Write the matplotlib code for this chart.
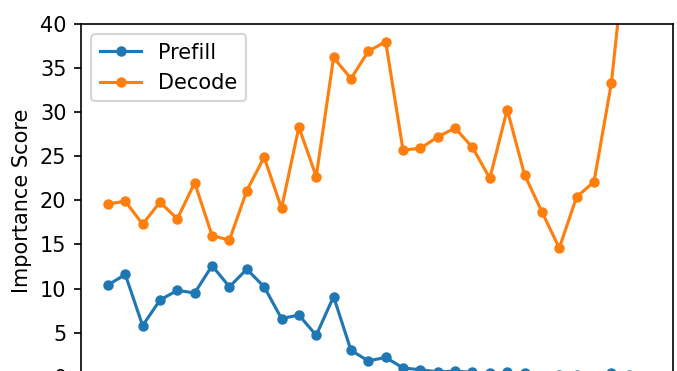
import matplotlib
matplotlib.use('Agg')
import matplotlib.pyplot as plt

# Layer-wise importance scores
layers = list(range(32))
prefill = [10.4, 11.6, 5.8, 8.7, 9.8, 9.5, 12.6, 10.2, 12.2, 10.2,
           6.6, 7.0, 4.7, 9.1, 3.0, 1.8, 2.2, 1.0, 0.8, 0.55,
           0.65, 0.5, 0.45, 0.55, 0.4, 0.1, 0.25, 0.25, 0.1, 0.45,
           0.25, 0.1]
decode = [19.6, 19.9, 17.3, 19.8, 17.9, 22.0, 16.0, 15.5, 21.1, 24.9,
          19.1, 28.3, 22.7, 36.2, 33.8, 36.9, 38.0, 25.7, 25.9, 27.2,
          28.2, 26.0, 22.5, 30.3, 22.9, 18.7, 14.6, 20.4, 22.1, 33.3,
          51.7, 48.0]

# the reference is a crop of a 150 dpi figure, the x axis lies below the edge
fig = plt.figure(figsize=(677 / 150, 371 / 150), dpi=150)
ax = fig.add_axes([81 / 677, -0.0156, 592 / 677, 0.951])

ax.plot(layers, prefill, marker='o', markersize=4, label='Prefill')
ax.plot(layers, decode, marker='o', markersize=4, label='Decode')

ax.set_ylim(0, 40)
ax.set_ylabel('Importance Score')
ax.legend(loc='upper left')

fig.savefig('out.png', dpi=150)
